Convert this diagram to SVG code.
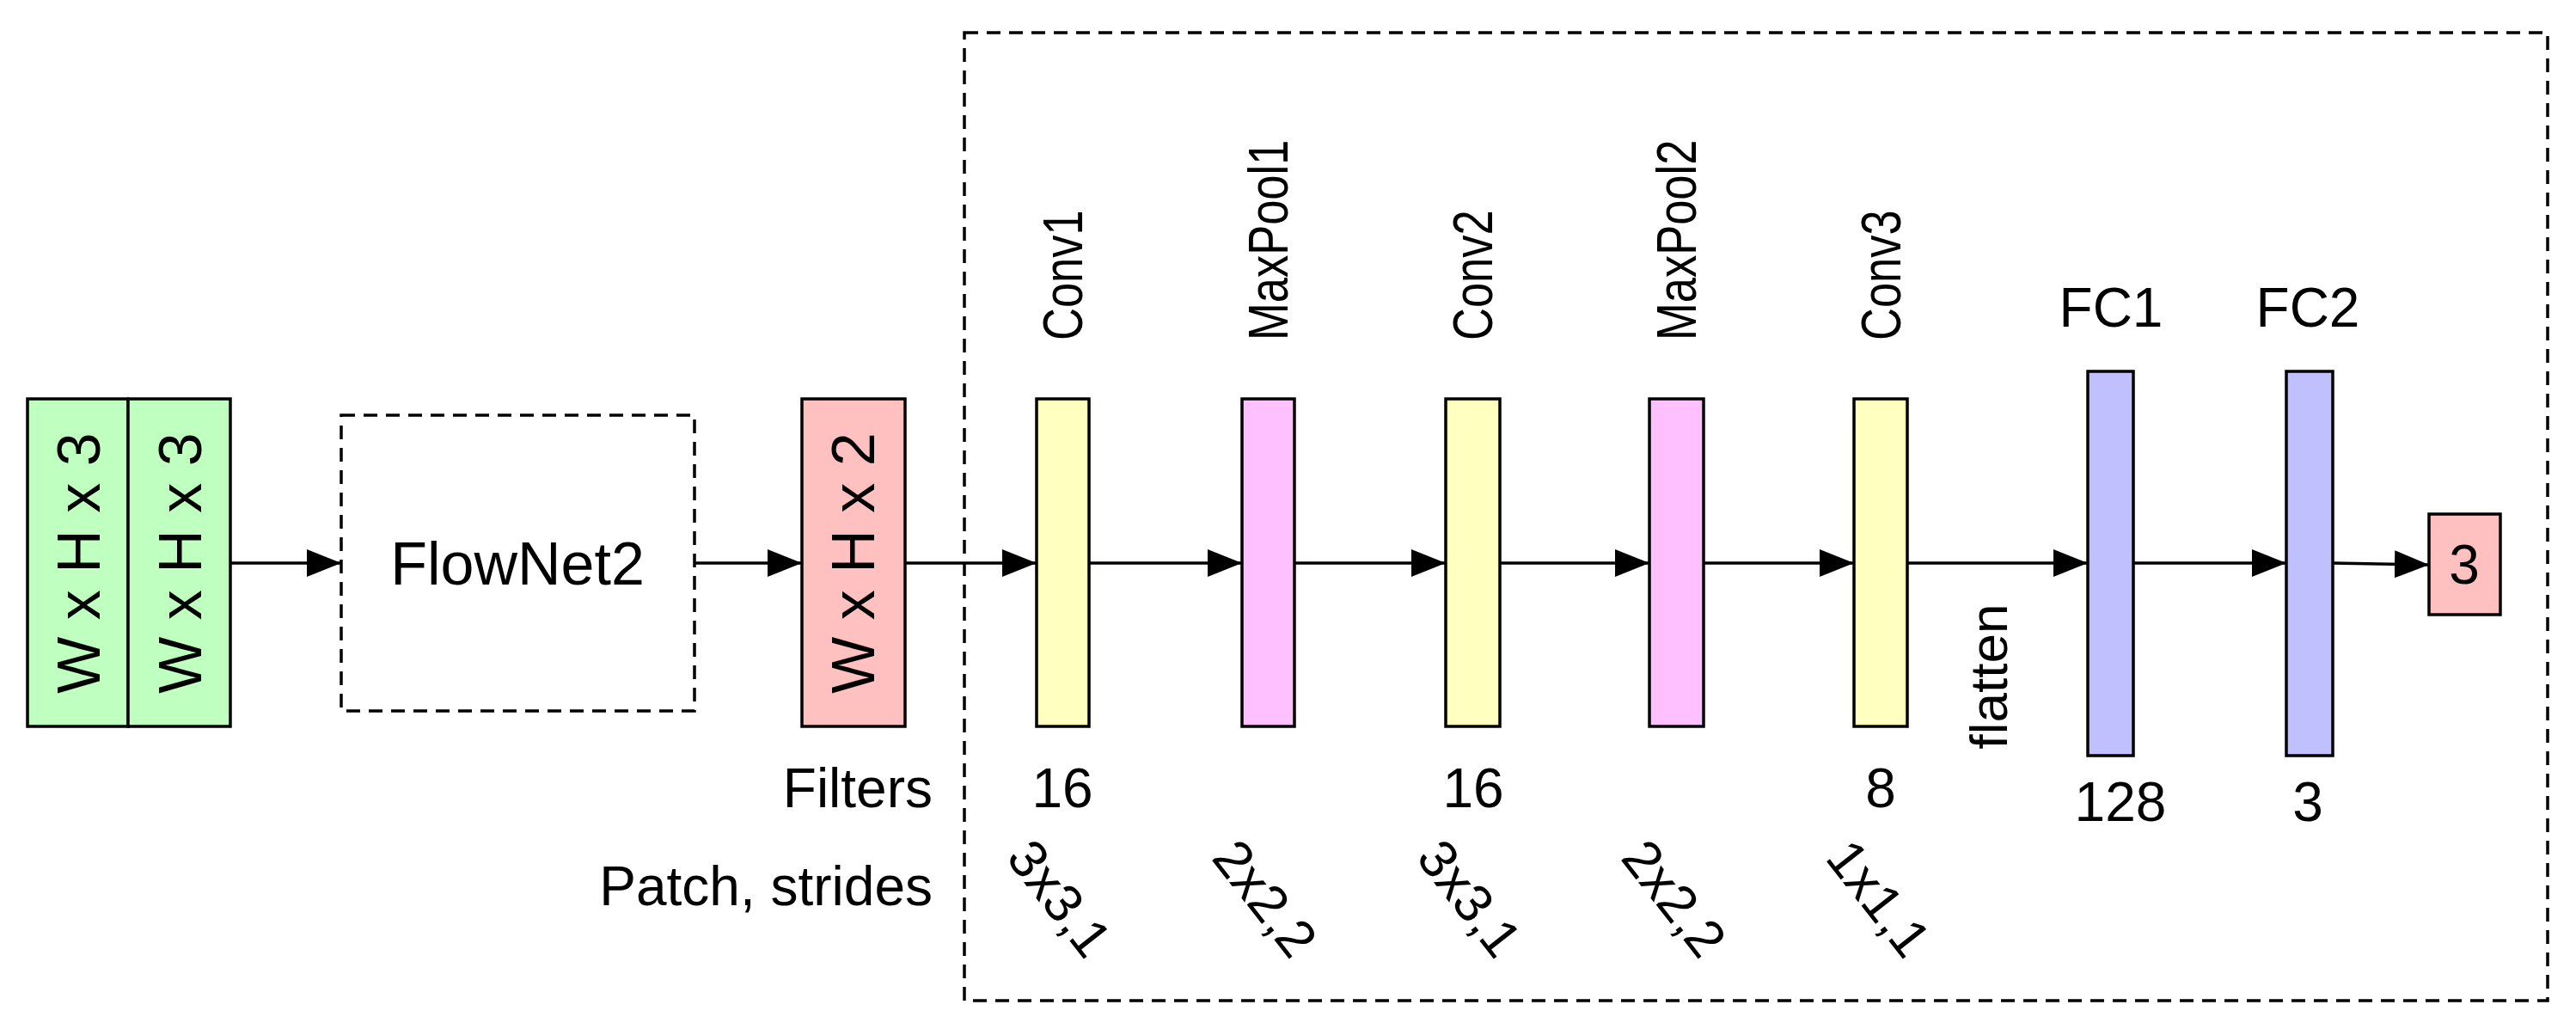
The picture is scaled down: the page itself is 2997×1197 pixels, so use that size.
<svg xmlns="http://www.w3.org/2000/svg" width="2997" height="1197" viewBox="0 0 2997 1197">
<style>
text{font-family:"Liberation Sans",Arial,sans-serif;font-size:54px;fill:#000}
.h{font-size:64px}
.w{font-size:70px}
.p{font-size:62px}
.r{font-size:64px}
.b{stroke:#000;stroke-width:3.5}
.d{fill:none;stroke:#000;stroke-width:3.5;stroke-dasharray:16 10}
.c line{stroke:#000;stroke-width:3.5}
</style>
<defs><marker id="a" markerWidth="40" markerHeight="32" refX="40" refY="16" orient="auto" markerUnits="userSpaceOnUse" viewBox="0 0 40 32"><path d="M0,0L40,16L0,32z"/></marker></defs>
<rect width="2997" height="1197" fill="#fff"/>
<rect class="d" x="1122" y="38" width="1842" height="1126"/>
<g id="in"><rect class="b" x="32" y="464" width="117" height="381" fill="#bfffbf"/><rect class="b" x="149" y="464" width="119" height="381" fill="#bfffbf"/>
<text class="w" transform="translate(92,655) rotate(-90)" text-anchor="middle" dominant-baseline="central">W x H x 3</text>
<text class="w" transform="translate(210,655) rotate(-90)" text-anchor="middle" dominant-baseline="central">W x H x 3</text></g>
<g id="flownet"><rect class="d" x="397" y="483" width="411" height="344"/><text class="w" x="602" y="680" text-anchor="middle">FlowNet2</text></g>
<g id="flow"><rect class="b" x="933" y="464" width="120" height="381" fill="#ffc0c0"/><text class="w" transform="translate(993,655) rotate(-90)" text-anchor="middle" dominant-baseline="central">W x H x 2</text></g>
<g id="conv1"><rect class="b" x="1206" y="464" width="61" height="381" fill="#ffffc0"/><text class="r" transform="translate(1259,396) rotate(-90) scale(0.82,1)">Conv1</text></g>
<g id="mp1"><rect class="b" x="1445" y="464" width="61" height="381" fill="#ffc0ff"/><text class="r" transform="translate(1498,396) rotate(-90) scale(0.82,1)">MaxPool1</text></g>
<g id="conv2"><rect class="b" x="1682" y="464" width="63" height="381" fill="#ffffc0"/><text class="r" transform="translate(1736,396) rotate(-90) scale(0.82,1)">Conv2</text></g>
<g id="mp2"><rect class="b" x="1919" y="464" width="63" height="381" fill="#ffc0ff"/><text class="r" transform="translate(1973,396) rotate(-90) scale(0.82,1)">MaxPool2</text></g>
<g id="conv3"><rect class="b" x="2157" y="464" width="62" height="381" fill="#ffffc0"/><text class="r" transform="translate(2211,396) rotate(-90) scale(0.82,1)">Conv3</text></g>
<g id="fc1"><rect class="b" x="2429" y="432" width="53" height="447" fill="#c0c0ff"/><text class="h" x="2456" y="380" text-anchor="middle">FC1</text><text class="h" x="2467" y="955" text-anchor="middle">128</text></g>
<g id="fc2"><rect class="b" x="2660" y="432" width="54" height="447" fill="#c0c0ff"/><text class="h" x="2685" y="380" text-anchor="middle">FC2</text><text class="h" x="2685" y="955" text-anchor="middle">3</text></g>
<g id="out"><rect class="b" x="2826" y="598" width="83" height="117" fill="#ffc0c0"/><text class="h" x="2867" y="679" text-anchor="middle">3</text></g>
<g id="labels">
<text class="h" x="1085" y="939" text-anchor="end">Filters</text>
<text class="h" x="1085" y="1053" text-anchor="end">Patch, strides</text>
<text class="h" x="1236" y="939" text-anchor="middle">16</text>
<text class="h" x="1714" y="939" text-anchor="middle">16</text>
<text class="h" x="2188" y="939" text-anchor="middle">8</text>
<text class="p" transform="translate(2335,787) rotate(-90)" text-anchor="middle">flatten</text>
<text class="p" transform="translate(1233,1045) rotate(52)" text-anchor="middle" dominant-baseline="central">3x3,1</text>
<text class="p" transform="translate(1472,1045) rotate(52)" text-anchor="middle" dominant-baseline="central">2x2,2</text>
<text class="p" transform="translate(1710,1045) rotate(52)" text-anchor="middle" dominant-baseline="central">3x3,1</text>
<text class="p" transform="translate(1948,1045) rotate(52)" text-anchor="middle" dominant-baseline="central">2x2,2</text>
<text class="p" transform="translate(2186,1045) rotate(52)" text-anchor="middle" dominant-baseline="central">1x1,1</text>
</g>
<g id="connectors" class="c">
<line x1="268" y1="655" x2="397" y2="655" marker-end="url(#a)"/>
<line x1="808" y1="655" x2="933" y2="655" marker-end="url(#a)"/>
<line x1="1053" y1="655" x2="1206" y2="655" marker-end="url(#a)"/>
<line x1="1267" y1="655" x2="1445" y2="655" marker-end="url(#a)"/>
<line x1="1506" y1="655" x2="1682" y2="655" marker-end="url(#a)"/>
<line x1="1745" y1="655" x2="1919" y2="655" marker-end="url(#a)"/>
<line x1="1982" y1="655" x2="2157" y2="655" marker-end="url(#a)"/>
<line x1="2219" y1="655" x2="2429" y2="655" marker-end="url(#a)"/>
<line x1="2482" y1="655" x2="2660" y2="655" marker-end="url(#a)"/>
<line x1="2714" y1="655" x2="2826" y2="657" marker-end="url(#a)"/>
</g>
</svg>
